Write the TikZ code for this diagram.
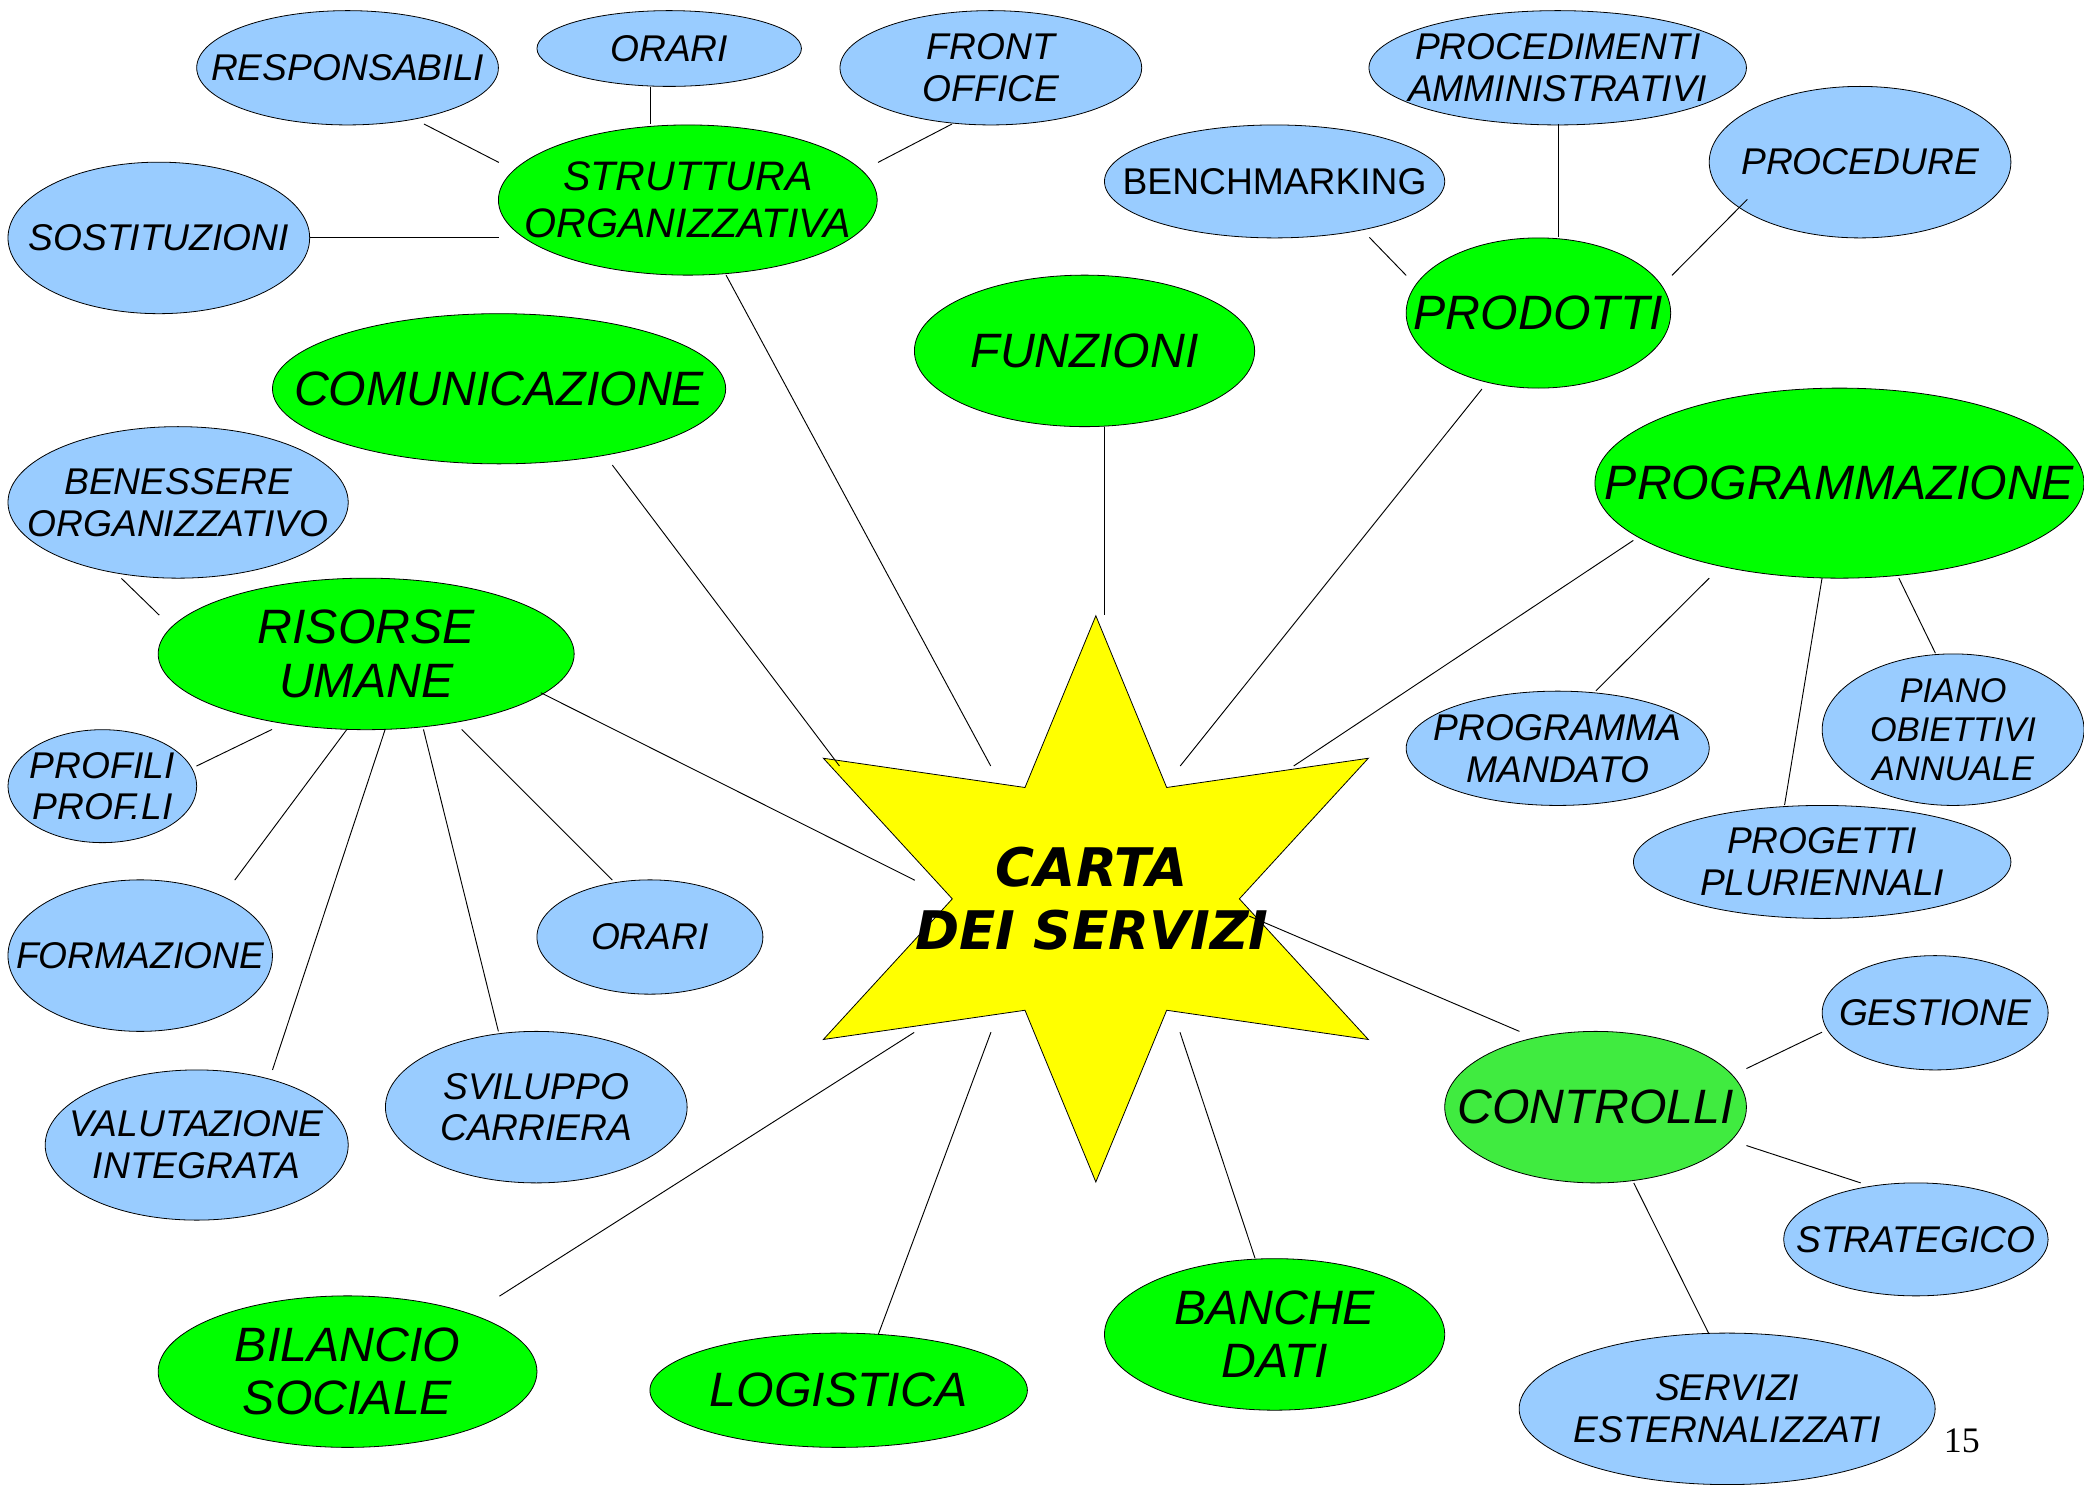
\documentclass[tikz,border=0pt]{standalone}
\usepackage{fontspec}
\setmainfont{Liberation Sans}
\newfontfamily\starfont{DejaVu Sans}
\newfontfamily\numfont{Liberation Serif}
\usetikzlibrary{shapes.geometric,calc}
\definecolor{lblue}{HTML}{99CCFF}
\definecolor{lgreen}{HTML}{00FF00}
\definecolor{cgreen}{RGB}{64,235,64}
\definecolor{staryellow}{HTML}{FFFF00}
\begin{document}
\begin{tikzpicture}[x=1pt,y=-1pt,
  oval/.style={ellipse, draw=black, line width=0.6pt, inner sep=0pt, outer sep=0pt},
  sz/.style 2 args={minimum width=#1pt, minimum height=#2pt},
  bluebox/.style={oval, fill=lblue},
  greenbox/.style={oval, fill=lgreen},
  ctrlbox/.style={oval, fill=cgreen},
  btxt/.style={font=\fontsize{28}{31.5}\selectfont\itshape, align=center, inner sep=0pt},
  btxtup/.style={font=\fontsize{28}{31.5}\selectfont, align=center, inner sep=0pt},
  stxt/.style={font=\fontsize{25.8}{29}\selectfont\itshape, align=center, inner sep=0pt},
  gtxt/.style={font=\fontsize{36.3}{40}\selectfont\itshape, align=center, inner sep=0pt},
  mtxt/.style={font=\fontsize{31}{35}\selectfont\itshape, align=center, inner sep=0pt},
  conn/.style={draw=black, line width=0.7pt},
  starshape/.style={draw=black, line width=0.6pt, fill=staryellow, line join=miter},
  startxt/.style={font=\starfont\bfseries\itshape\fontsize{40}{47}\selectfont, align=center, inner sep=0pt},
  numtxt/.style={font=\numfont\fontsize{27}{30}\selectfont, inner sep=0pt}
]
\useasboundingbox (0,0) rectangle (1568,1117);

% star
\coordinate (star) at (824.5,676.3);
\begin{scope}[shift={(star)}]
\draw[starshape] (0,-213) -- (53.3,-83.8) -- (205,-105.8) -- (108,0) -- (205,105.8) -- (53.3,83.8)
  -- (0,213) -- (-53.3,83.8) -- (-205,105.8) -- (-108,0) -- (-205,-105.8) -- (-53.3,-83.8) -- cycle;
\end{scope}

% blue ellipses
\node[bluebox, sz={227}{86}] (resp) at (261.5,51) {};
\node[bluebox, sz={199}{57}] (orarit) at (503.5,36.5) {};
\node[bluebox, sz={227}{86}] (front) at (745.5,51) {};
\node[bluebox, sz={227}{114}] (sost) at (119.5,179) {};
\node[bluebox, sz={284}{86}] (procm) at (1172,51) {};
\node[bluebox, sz={256}{85}] (bench) at (959,136.5) {};
\node[bluebox, sz={227}{114}] (proced) at (1399.5,122) {};
\node[bluebox, sz={256}{114}] (benes) at (134,378) {};
\node[bluebox, sz={142}{85}] (profili) at (77,591.5) {};
\node[bluebox, sz={199}{114}] (form) at (105.5,719) {};
\node[bluebox, sz={170}{86}] (orarim) at (489,705) {};
\node[bluebox, sz={228}{113}] (valut) at (148,861.5) {};
\node[bluebox, sz={227}{114}] (svil) at (403.5,833) {};
\node[bluebox, sz={228}{86}] (progm) at (1172,563) {};
\node[bluebox, sz={197}{114}] (piano) at (1469.5,549) {};
\node[bluebox, sz={284}{85}] (proget) at (1371,648.5) {};
\node[bluebox, sz={170}{86}] (gest) at (1456,762) {};
\node[bluebox, sz={199}{85}] (strat) at (1441.5,932.5) {};
\node[bluebox, sz={313}{114}] (serv) at (1299.5,1060) {};

% green ellipses
\node[greenbox, sz={285}{113}] (strut) at (517.5,150.5) {};
\node[greenbox, sz={256}{114}] (funz) at (816,264) {};
\node[greenbox, sz={199}{113}] (prod) at (1157.5,235.5) {};
\node[greenbox, sz={341}{113}] (comun) at (375.5,292.5) {};
\node[greenbox, sz={368}{143}] (progr) at (1384,363.5) {};
\node[greenbox, sz={313}{114}] (risorse) at (275.5,492) {};
\node[ctrlbox, sz={227}{114}] (contr) at (1200.5,833) {};
\node[greenbox, sz={285}{114}] (bilan) at (261.5,1032) {};
\node[greenbox, sz={284}{86}] (logist) at (631,1046) {};
\node[greenbox, sz={256}{114}] (banche) at (959,1004) {};

% connectors: struttura
\draw[conn] ($(resp)+(57.5,42.3)$) -- ($(strut)+(-142.2,-28.3)$);
\draw[conn] ($(orarit)+(-14,28.7)$) -- ($(strut)+(-28,-57.2)$);
\draw[conn] ($(front)+(-29.2,42.3)$) -- ($(strut)+(143.1,-28.3)$);
\draw[conn] ($(sost)+(113.9,-0.4)$) -- ($(strut)+(-142.2,28.1)$);
% connectors to star
\draw[conn] ($(strut)+(28.8,56.5)$) -- ($(star)+(-79.1,-100)$);
\draw[conn] ($(comun)+(85.2,57.4)$) -- ($(star)+(-192.9,-100)$);
\draw[conn] ($(funz)+(14.7,57)$) -- ($(star)+(6.2,-213.6)$);
\draw[conn] ($(prod)+(-42.5,57.2)$) -- ($(star)+(63.5,-100)$);
\draw[conn] ($(progr)+(-155.1,43.1)$) -- ($(star)+(148.9,-100)$);
\draw[conn] ($(risorse)+(131.4,29.2)$) -- ($(star)+(-136.2,-14)$);
\draw[conn] ($(contr)+(-57.3,-57)$) -- ($(star)+(115.5,13)$);
\draw[conn] ($(star)+(-136.7,100.5)$) -- ($(bilan)+(114.3,-56.8)$);
\draw[conn] ($(star)+(-78.9,100.3)$) -- ($(logist)+(29.9,-42.2)$);
\draw[conn] ($(star)+(63.3,100.3)$) -- ($(banche)+(-14.7,-57.3)$);
% risorse umane
\draw[conn] ($(benes)+(-42.6,57.2)$) -- ($(risorse)+(-155.7,-29.2)$);
\draw[conn] ($(profili)+(70.8,-15.1)$) -- ($(risorse)+(-70.8,56.8)$);
\draw[conn] ($(form)+(71.1,-56.8)$) -- ($(risorse)+(-14.5,56.8)$);
\draw[conn] ($(valut)+(57,-56.5)$) -- ($(risorse)+(14.3,56.8)$);
\draw[conn] ($(svil)+(-28.5,-57)$) -- ($(risorse)+(43.1,56.8)$);
\draw[conn] ($(orarim)+(-28.3,-42.8)$) -- ($(risorse)+(71.9,56.8)$);
% prodotti
\draw[conn] ($(bench)+(71.3,42.1)$) -- ($(prod)+(-99.5,-28.3)$);
\draw[conn] ($(procm)+(0.2,42.3)$) -- ($(prod)+(14.7,-56.9)$);
\draw[conn] ($(proced)+(-84.8,28)$) -- ($(prod)+(100.5,-28.3)$);
% programmazione
\draw[conn] ($(progr)+(-98,71.5)$) -- ($(progm)+(28.8,-43.3)$);
\draw[conn] ($(progr)+(-13.1,71.5)$) -- ($(proget)+(-28.3,-42.8)$);
\draw[conn] ($(progr)+(44.7,71.5)$) -- ($(piano)+(-13.3,-57.5)$);
% controlli
\draw[conn] ($(contr)+(113.5,-29)$) -- ($(gest)+(-85.1,14.6)$);
\draw[conn] ($(contr)+(113.5,28.9)$) -- ($(strat)+(-41.5,-42.5)$);
\draw[conn] ($(contr)+(28.7,57)$) -- ($(serv)+(-13.7,-56.4)$);

% texts
\node[btxt] (resp-t) at (resp) {RESPONSABILI};
\node[btxt] (orarit-t) at (orarit) {ORARI};
\node[btxt] (front-t) at (front) {FRONT\\OFFICE};
\node[btxt] (sost-t) at (sost) {SOSTITUZIONI};
\node[btxt] (procm-t) at (procm) {PROCEDIMENTI\\AMMINISTRATIVI};
\node[btxtup] (bench-t) at (bench) {BENCHMARKING};
\node[btxt] (proced-t) at (proced) {PROCEDURE};
\node[btxt] (benes-t) at (benes) {BENESSERE\\ORGANIZZATIVO};
\node[btxt] (profili-t) at (profili) {PROFILI\\PROF.LI};
\node[btxt] (form-t) at (form) {FORMAZIONE};
\node[btxt] (orarim-t) at (orarim) {ORARI};
\node[btxt] (valut-t) at (valut) {VALUTAZIONE\\INTEGRATA};
\node[btxt] (svil-t) at (svil) {SVILUPPO\\CARRIERA};
\node[btxt] (progm-t) at (progm) {PROGRAMMA\\MANDATO};
\node[stxt] (piano-t) at (piano) {PIANO\\OBIETTIVI\\ANNUALE};
\node[btxt] (proget-t) at (proget) {PROGETTI\\PLURIENNALI};
\node[btxt] (gest-t) at (gest) {GESTIONE};
\node[btxt] (strat-t) at (strat) {STRATEGICO};
\node[btxt] (serv-t) at (serv) {SERVIZI\\ESTERNALIZZATI};

\node[mtxt] (strut-t) at (strut) {STRUTTURA\\ORGANIZZATIVA};
\node[gtxt] (funz-t) at (funz) {FUNZIONI};
\node[gtxt] (prod-t) at (prod) {PRODOTTI};
\node[gtxt] (comun-t) at (comun) {COMUNICAZIONE};
\node[gtxt] (progr-t) at (progr) {PROGRAMMAZIONE};
\node[gtxt] (risorse-t) at (risorse) {RISORSE\\UMANE};
\node[gtxt] (contr-t) at (contr) {CONTROLLI};
\node[gtxt] (bilan-t) at (bilan) {BILANCIO\\SOCIALE};
\node[gtxt] (logist-t) at (logist) {LOGISTICA};
\node[gtxt] (banche-t) at (banche) {BANCHE\\DATI};

\node[startxt] (carta) at ($(star)+(-3,0)$) {CARTA\\DEI SERVIZI};
\node[numtxt] (pagenum) at (1476,1084) {15};
\end{tikzpicture}
\end{document}
